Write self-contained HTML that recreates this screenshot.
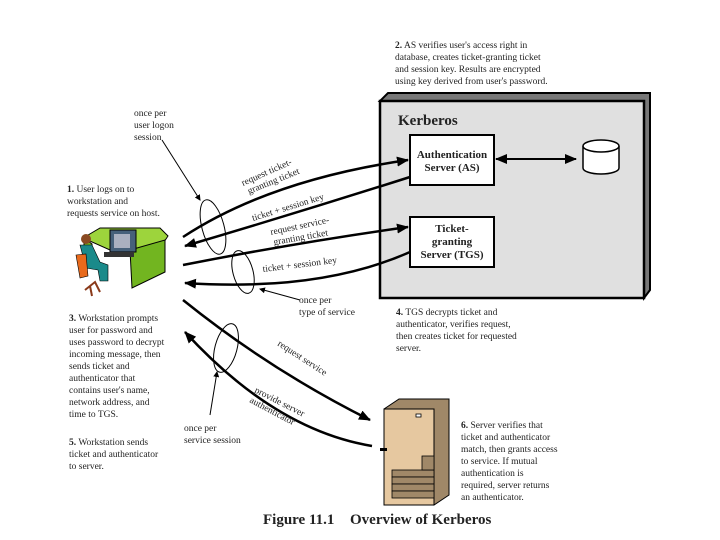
<!DOCTYPE html>
<html><head><meta charset="utf-8"><style>
body{margin:0;background:#fff}
svg{display:block}
text{font-family:"Liberation Serif",serif;font-size:9.5px;fill:#222}
.b{font-weight:bold}
</style></head><body>
<svg width="720" height="540" viewBox="0 0 720 540">
<defs>
<marker id="a" markerWidth="12" markerHeight="10" refX="11" refY="5" orient="auto" markerUnits="userSpaceOnUse" viewBox="0 0 12 10"><path d="M0,0 L12,5 L0,10 z" fill="#000"/></marker>
<marker id="s" markerWidth="6" markerHeight="6" refX="5" refY="3" orient="auto" viewBox="0 0 6 6"><path d="M0,0 L6,3 L0,6 z" fill="#000"/></marker>
</defs>
<path d="M380,101 L388,93 L650,93 L650,290 L644,298 L644,101 Z" fill="#777" stroke="#000" stroke-width="2"/>
<rect x="380" y="101" width="264" height="197" fill="#e0e0e0" stroke="#000" stroke-width="2.5"/>
<text x="398" y="125" class="b" style="font-size:15px">Kerberos</text>
<rect x="410" y="135" width="84" height="50" fill="#fff" stroke="#000" stroke-width="2"/>
<text x="452" y="158" class="b" text-anchor="middle" style="font-size:11px">Authentication</text>
<text x="452" y="171" class="b" text-anchor="middle" style="font-size:11px">Server (AS)</text>
<rect x="410" y="217" width="84" height="50" fill="#fff" stroke="#000" stroke-width="2"/>
<text x="452" y="232" class="b" text-anchor="middle" style="font-size:11px">Ticket-</text>
<text x="452" y="245" class="b" text-anchor="middle" style="font-size:11px">granting</text>
<text x="452" y="258" class="b" text-anchor="middle" style="font-size:11px">Server (TGS)</text>
<path d="M583,146 L583,168 A18,6 0 0 0 619,168 L619,146" fill="#fff" stroke="#000" stroke-width="1.5"/>
<ellipse cx="601" cy="146" rx="18" ry="6" fill="#fff" stroke="#000" stroke-width="1.5"/>
<line x1="503" y1="159" x2="576" y2="159" stroke="#000" stroke-width="2" marker-end="url(#a)"/>
<line x1="574" y1="159" x2="496" y2="159" stroke="#000" stroke-width="2" marker-end="url(#a)"/>
<g fill="none" stroke="#000" stroke-width="2.5">
<path d="M183,237 Q270,180 408,160" marker-end="url(#a)"/>
<path d="M410,177 Q300,212 185,246" marker-end="url(#a)"/>
<path d="M183,265 Q300,242 408,227" marker-end="url(#a)"/>
<path d="M410,252 Q320,292 185,283" marker-end="url(#a)"/>
<path d="M183,300 Q270,370 370,420" marker-end="url(#a)"/>
<path d="M372,446 Q275,430 185,332" marker-end="url(#a)"/>
</g>
<g fill="none" stroke="#000" stroke-width="1">
<ellipse cx="213" cy="227" rx="11" ry="28" transform="rotate(-15 213 227)"/>
<ellipse cx="243" cy="272" rx="10" ry="22" transform="rotate(-15 243 272)"/>
<ellipse cx="226" cy="348" rx="11" ry="25" transform="rotate(15 226 348)"/>
<line x1="162" y1="140" x2="200" y2="200" marker-end="url(#s)"/>
<path d="M300,300 L260,289" marker-end="url(#s)"/>
<line x1="210" y1="415" x2="217" y2="372" marker-end="url(#s)"/>
</g>
<text transform="translate(243,186) rotate(-24)">request ticket-</text>
<text transform="translate(249,194) rotate(-22)">granting ticket</text>
<text transform="translate(253,221) rotate(-17)">ticket + session key</text>
<text transform="translate(271,235) rotate(-12)">request service-</text>
<text transform="translate(274,245) rotate(-10)">granting ticket</text>
<text transform="translate(263,272) rotate(-7)">ticket + session key</text>
<text transform="translate(277,345) rotate(33)">request service</text>
<text transform="translate(254,392) rotate(27)">provide server</text>
<text transform="translate(249,402) rotate(28)">authenticator</text>
<text x="134" y="116">once per</text><text x="134" y="128">user logon</text><text x="134" y="140">session</text>
<text x="67" y="192"><tspan class="b">1.</tspan> User logs on to</text>
<text x="67" y="204">workstation and</text>
<text x="67" y="216">requests service on host.</text>
<text x="395" y="48"><tspan class="b">2.</tspan> AS verifies user's access right in</text>
<text x="395" y="60">database, creates ticket-granting ticket</text>
<text x="395" y="72">and session key. Results are encrypted</text>
<text x="395" y="84">using key derived from user's password.</text>
<text x="69" y="321"><tspan class="b">3.</tspan> Workstation prompts</text>
<text x="69" y="333">user for password and</text>
<text x="69" y="345">uses password to decrypt</text>
<text x="69" y="357">incoming message, then</text>
<text x="69" y="369">sends ticket and</text>
<text x="69" y="381">authenticator that</text>
<text x="69" y="393">contains user's name,</text>
<text x="69" y="405">network address, and</text>
<text x="69" y="417">time to TGS.</text>
<text x="69" y="445"><tspan class="b">5.</tspan> Workstation sends</text>
<text x="69" y="457">ticket and authenticator</text>
<text x="69" y="469">to server.</text>
<text x="299" y="303">once per</text><text x="299" y="315">type of service</text>
<text x="396" y="315"><tspan class="b">4.</tspan> TGS decrypts ticket and</text>
<text x="396" y="327">authenticator, verifies request,</text>
<text x="396" y="339">then creates ticket for requested</text>
<text x="396" y="351">server.</text>
<text x="184" y="431">once per</text><text x="184" y="443">service session</text>
<text x="461" y="428"><tspan class="b">6.</tspan> Server verifies that</text>
<text x="461" y="440">ticket and authenticator</text>
<text x="461" y="452">match, then grants access</text>
<text x="461" y="464">to service. If mutual</text>
<text x="461" y="476">authentication is</text>
<text x="461" y="488">required, server returns</text>
<text x="461" y="500">an authenticator.</text>
<text x="263" y="524" class="b" style="font-size:15px">Figure 11.1</text>
<text x="350" y="524" class="b" style="font-size:15px">Overview of Kerberos</text>
<path d="M384,409 L399,399 L449,399 L449,495 L434,505 Z" fill="#a08868" stroke="#000"/>
<rect x="384" y="409" width="50" height="96" fill="#e6c8a0" stroke="#000"/>
<rect x="416" y="414" width="5" height="3" fill="#fff" stroke="#000" stroke-width="0.8"/>
<rect x="380" y="448" width="7" height="3" fill="#000"/>
<g fill="#a08868" stroke="#000" stroke-width="0.8">
<rect x="392" y="470" width="42" height="7"/><rect x="392" y="477" width="42" height="7"/><rect x="392" y="484" width="42" height="7"/><rect x="392" y="491" width="42" height="7"/>
<rect x="422" y="456" width="12" height="14"/>
</g>
<path d="M83,238 L100,228 L160,228 L168,236 L160,248 L110,250 Z" fill="#9dd43c" stroke="#000"/>
<path d="M130,250 L165,240 L165,272 L132,288 Z" fill="#72b520" stroke="#000"/>
<path d="M84,238 L84,258 L92,258 L92,244 Z" fill="#72b520" stroke="#000"/>
<rect x="110" y="230" width="26" height="22" fill="#46607a" stroke="#000"/>
<rect x="114" y="234" width="16" height="14" fill="#aab0c0"/>
<rect x="104" y="252" width="30" height="5" fill="#333"/>
<circle cx="86" cy="239" r="5" fill="#8a4a22"/>
<path d="M80,245 L92,245 L100,262 L108,265 L108,281 L100,281 L98,270 L86,268 Z" fill="#1a8a8a" stroke="#000" stroke-width="0.6"/>
<path d="M76,255 L86,254 L88,276 L80,278 Z" fill="#e86a1c" stroke="#000" stroke-width="0.6"/>
<path d="M85,290 L95,282 L100,292 M90,286 L92,296" stroke="#8a3a1a" stroke-width="2" fill="none"/>
</svg>
</body></html>
